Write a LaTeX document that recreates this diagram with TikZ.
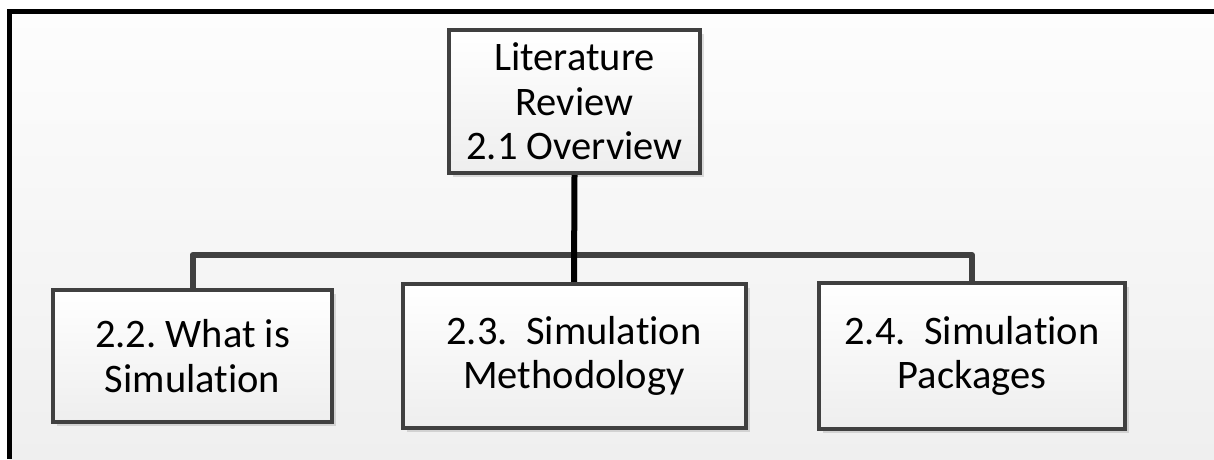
\documentclass[tikz,border=0pt]{standalone}
\usepackage{fontspec}
\setmainfont{Carlito}[RawFeature=-liga]
\frenchspacing
\usetikzlibrary{shadows,backgrounds}
\definecolor{boxline}{HTML}{404040}
\definecolor{paneltop}{HTML}{FDFDFD}
\definecolor{panelbot}{HTML}{EFEFEF}
\definecolor{boxbot}{HTML}{EEEEEE}
\tikzset{
  topic/.style={draw=boxline, line width=4pt, rectangle,
    top color=white, bottom color=boxbot,
    align=center, inner sep=0pt,
    font=\fontsize{40.5}{44.5}\selectfont,
    drop shadow={shadow xshift=4pt, shadow yshift=-4pt, fill=black, opacity=0.12}},
  branch/.style={draw=boxline, line width=6pt, line join=round, line cap=round},
  trunk/.style={draw=black, line width=6pt, line cap=round}
}
\begin{document}
\begin{tikzpicture}[x=1pt, y=-1pt]
  \useasboundingbox (0,0) rectangle (1214,459);

  % topic boxes
  \node[topic, minimum width=251pt, minimum height=143pt] (overview) at (574.5,101.5)
    {Literature\\Review\\2.1 Overview};
  \node[topic, minimum width=279pt, minimum height=132pt] (whatis) at (192.5,356)
    {2.2. What is\\Simulation};
  \node[topic, minimum width=343pt, minimum height=144pt] (method) at (574,356)
    {2.3.\ \ Simulation\\Methodology};
  \node[topic, minimum width=306pt, minimum height=146pt] (packages) at (972,356)
    {2.4.\ \ Simulation\\Packages};

  \coordinate (bus) at (0,255);
  \begin{scope}[on background layer]
    % panel background and frame (top and left edges)
    \fill[top color=paneltop, bottom color=panelbot] (9.5,11.5) rectangle (1214,459);
    \draw[black, line width=5pt] (9.5,459) -- (9.5,11.5) -- (1214,11.5);
    % connectors
    \draw[branch] (whatis.north) -- (whatis.north |- bus) -- (packages.north |- bus) -- (packages.north);
    \draw[trunk] (overview.south) -- (method.north);
  \end{scope}
\end{tikzpicture}
\end{document}
